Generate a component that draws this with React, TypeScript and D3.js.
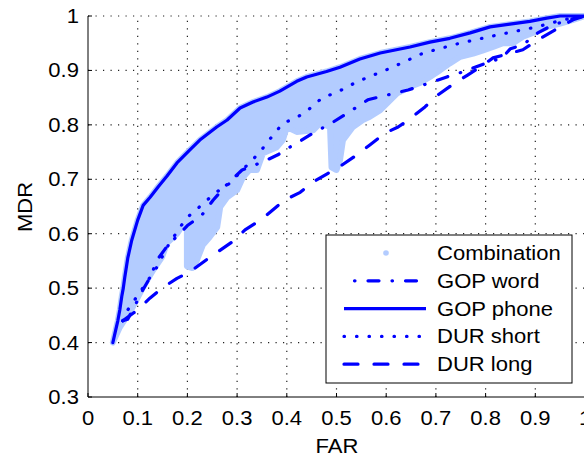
import React, { useEffect, useRef } from "react";
import * as d3 from "d3";

// ---- data ----
const xTicks = [0, 0.1, 0.2, 0.3, 0.4, 0.5, 0.6, 0.7, 0.8, 0.9, 1];
const yTicks = [0.3, 0.4, 0.5, 0.6, 0.7, 0.8, 0.9, 1];

// GOP phone (solid)
const phoneX = [0.05, 0.055, 0.06, 0.064, 0.068, 0.071, 0.074, 0.08, 0.088, 0.1, 0.111, 0.125, 0.141, 0.159, 0.179, 0.205, 0.225, 0.259, 0.28, 0.306, 0.332, 0.36, 0.386, 0.42, 0.44, 0.48, 0.507, 0.547, 0.588, 0.648, 0.688, 0.728, 0.769, 0.809, 0.849, 0.889, 0.923, 0.95, 1];
const phoneY = [0.40, 0.42, 0.44, 0.46, 0.485, 0.50, 0.52, 0.555, 0.588, 0.625, 0.652, 0.667, 0.686, 0.706, 0.73, 0.754, 0.772, 0.796, 0.809, 0.831, 0.842, 0.851, 0.862, 0.88, 0.888, 0.898, 0.906, 0.921, 0.932, 0.943, 0.952, 0.959, 0.969, 0.98, 0.985, 0.99, 0.996, 1, 1];

// GOP word (dash-dot)
const wordX = [0.07, 0.08, 0.09, 0.11, 0.125, 0.14, 0.16, 0.18, 0.2, 0.229, 0.252, 0.282, 0.31, 0.352, 0.382, 0.402, 0.423, 0.453, 0.493, 0.523, 0.563, 0.594, 0.644, 0.674, 0.722, 0.753, 0.803, 0.833, 0.85, 0.875, 0.905, 0.934, 0.975, 1];
const wordY = [0.44, 0.443, 0.46, 0.496, 0.52, 0.553, 0.578, 0.596, 0.615, 0.634, 0.662, 0.693, 0.717, 0.732, 0.745, 0.757, 0.768, 0.785, 0.805, 0.822, 0.846, 0.853, 0.864, 0.873, 0.888, 0.897, 0.914, 0.923, 0.94, 0.947, 0.969, 0.983, 0.995, 1];

// DUR short (dotted)
const shortX = [0.07, 0.08, 0.11, 0.139, 0.159, 0.185, 0.201, 0.219, 0.256, 0.286, 0.306, 0.33, 0.346, 0.36, 0.376, 0.392, 0.417, 0.44, 0.473, 0.497, 0.541, 0.608, 0.675, 0.748, 0.823, 0.903, 0.956, 1];
const shortY = [0.44, 0.46, 0.5, 0.539, 0.575, 0.612, 0.631, 0.645, 0.675, 0.693, 0.713, 0.735, 0.75, 0.767, 0.785, 0.803, 0.812, 0.825, 0.851, 0.858, 0.879, 0.904, 0.932, 0.95, 0.965, 0.98, 0.993, 1];

// DUR long (dashed)
const longX = [0.07, 0.1, 0.125, 0.149, 0.179, 0.205, 0.235, 0.26, 0.29, 0.316, 0.35, 0.396, 0.427, 0.453, 0.483, 0.511, 0.541, 0.567, 0.598, 0.624, 0.652, 0.678, 0.704, 0.732, 0.763, 0.789, 0.815, 0.875, 0.905, 0.946, 0.976, 1];
const longY = [0.44, 0.46, 0.482, 0.5, 0.518, 0.53, 0.55, 0.566, 0.585, 0.607, 0.627, 0.662, 0.676, 0.695, 0.711, 0.726, 0.745, 0.763, 0.785, 0.796, 0.814, 0.833, 0.855, 0.873, 0.891, 0.906, 0.923, 0.938, 0.956, 0.978, 0.993, 1];

// Combination cloud: lower envelope (its upper edge follows GOP phone)
const combLowX = [0.05, 0.064, 0.09, 0.111, 0.131, 0.149, 0.159, 0.179, 0.19, 0.199, 0.199, 0.21, 0.219, 0.231, 0.245, 0.26, 0.266, 0.28, 0.3, 0.312, 0.325, 0.34, 0.352, 0.38, 0.392, 0.4, 0.42, 0.453, 0.467, 0.487, 0.49, 0.5, 0.507, 0.513, 0.533, 0.553, 0.567, 0.588, 0.622, 0.648, 0.668, 0.688, 0.708, 0.728, 0.749, 0.775, 0.795, 0.815, 0.835, 0.855, 0.875, 0.895, 0.924, 0.95, 0.976, 1];
const combLowY = [0.40, 0.428, 0.465, 0.502, 0.533, 0.557, 0.583, 0.6, 0.615, 0.62, 0.54, 0.537, 0.551, 0.579, 0.594, 0.612, 0.649, 0.667, 0.68, 0.704, 0.717, 0.717, 0.748, 0.759, 0.772, 0.796, 0.787, 0.79, 0.803, 0.796, 0.722, 0.717, 0.735, 0.772, 0.796, 0.809, 0.815, 0.827, 0.858, 0.87, 0.877, 0.888, 0.9, 0.913, 0.925, 0.931, 0.937, 0.943, 0.95, 0.95, 0.962, 0.969, 0.98, 0.986, 0.993, 1];

const legendNames = ["Combination", "GOP word", "GOP phone", "DUR short", "DUR long"];

const BLUE = "#0000ff";
const LIGHT = "#b3ccff";
const FONT = "'Liberation Sans', Arial, Helvetica, sans-serif";
const FS = 19.5;
const SX = 1.13; // the figure's lettering is a bit wider than Arial

const W = 584;
const H = 457;

const dashStyles: Record<string, string> = {
  "GOP word": "11,13,0.5,13",
  "GOP phone": "none",
  "DUR short": "0.5,12",
  "DUR long": "14,16",
};

const App = () => {
  const ref = useRef<SVGSVGElement>(null);

  useEffect(() => {
    const svg = d3.select(ref.current);
    svg.selectAll("*").remove();

    const x = d3.scaleLinear().domain([0, 1]).range([88, 585]);
    const y = d3.scaleLinear().domain([0.3, 1]).range([397, 16]);

    const label = (g: any, tx: number, ty: number, str: string, anchor: string, rot = 0) =>
      g.append("text")
        .attr("transform", `translate(${tx},${ty})${rot ? ` rotate(${rot})` : ""} scale(${SX},1)`)
        .attr("text-anchor", anchor)
        .text(str);

    // dotted grid
    const grid = svg.append("g")
      .attr("stroke", "#222").attr("stroke-width", 1.2)
      .attr("stroke-dasharray", "1.2,6.3");
    grid.selectAll("line.gx")
      .data(xTicks.filter(d => d > 0))
      .join("line")
      .attr("x1", d => x(d)).attr("x2", d => x(d))
      .attr("y1", y(0.3)).attr("y2", y(1));
    grid.selectAll("line.gy")
      .data(yTicks.filter(d => d > 0.3))
      .join("line")
      .attr("x1", x(0)).attr("x2", x(1))
      .attr("y1", d => y(d)).attr("y2", d => y(d));

    const path = d3.line<[number, number]>().x(d => x(d[0])).y(d => y(d[1]));

    // combination cloud
    const poly: [number, number][] = [];
    phoneX.forEach((v, i) => poly.push([v, phoneY[i]]));
    for (let i = combLowX.length - 1; i >= 0; i--) poly.push([combLowX[i], combLowY[i]]);
    svg.append("path")
      .attr("d", path(poly) + "Z")
      .attr("fill", LIGHT)
      .attr("stroke", LIGHT)
      .attr("stroke-width", 6)
      .attr("stroke-linejoin", "round");

    // curves
    const curves = [
      { name: "DUR long", xs: longX, ys: longY },
      { name: "DUR short", xs: shortX, ys: shortY },
      { name: "GOP word", xs: wordX, ys: wordY },
      { name: "GOP phone", xs: phoneX, ys: phoneY },
    ];
    curves.forEach(c => {
      const pts = c.xs.map((v, i) => [v, c.ys[i]] as [number, number]);
      svg.append("path")
        .attr("d", path(pts))
        .attr("fill", "none")
        .attr("stroke", BLUE)
        .attr("stroke-width", 3.2)
        .attr("stroke-linecap", "round")
        .attr("stroke-linejoin", "round")
        .attr("stroke-dasharray", dashStyles[c.name]);
    });

    // axes (left + bottom, ticks inward)
    const ax = svg.append("g").attr("font-family", FONT).attr("font-size", FS);
    ax.append("line").attr("x1", x(0)).attr("x2", x(1)).attr("y1", y(0.3)).attr("y2", y(0.3))
      .attr("stroke", "#000").attr("stroke-width", 1);
    ax.append("line").attr("x1", x(0)).attr("x2", x(0)).attr("y1", y(0.3)).attr("y2", y(1))
      .attr("stroke", "#000").attr("stroke-width", 1);
    ax.selectAll("line.tx").data(xTicks).join("line")
      .attr("x1", d => x(d)).attr("x2", d => x(d))
      .attr("y1", y(0.3)).attr("y2", y(0.3) - 4)
      .attr("stroke", "#000");
    ax.selectAll("line.ty").data(yTicks).join("line")
      .attr("x1", x(0)).attr("x2", x(0) + 4)
      .attr("y1", d => y(d)).attr("y2", d => y(d))
      .attr("stroke", "#000");
    xTicks.forEach(d => label(ax, x(d), y(0.3) + 28, d3.format("~g")(d), "middle"));
    yTicks.forEach(d => label(ax, x(0) - 9, y(d) + 7, d3.format("~g")(d), "end"));
    label(ax, 337, 453, "FAR", "middle");
    label(ax, 32, 207, "MDR", "middle", -90);

    // legend
    const lg = svg.append("g").attr("font-family", FONT).attr("font-size", FS);
    lg.append("rect").attr("x", 326).attr("y", 235).attr("width", 246).attr("height", 148)
      .attr("fill", "#fff").attr("stroke", "#000").attr("stroke-width", 1);
    legendNames.forEach((name, i) => {
      const cy = 253 + i * 27.8;
      if (name === "Combination") {
        lg.append("circle").attr("cx", 386).attr("cy", cy).attr("r", 2.8).attr("fill", LIGHT);
      } else {
        lg.append("line").attr("x1", 344).attr("x2", 426).attr("y1", cy).attr("y2", cy)
          .attr("stroke", BLUE).attr("stroke-width", 3.2)
          .attr("stroke-linecap", name === "GOP phone" ? "butt" : "round")
          .attr("stroke-dasharray", dashStyles[name])
          .attr("stroke-dashoffset", name === "GOP word" ? 13.5 : 0);
      }
      label(lg, 437, cy + 7, name, "start");
    });
  }, []);

  return (
    <svg ref={ref} width={W} height={H}
      style={{ position: "fixed", left: 0, top: 0, background: "#fff" }} />
  );
};

export default App;
